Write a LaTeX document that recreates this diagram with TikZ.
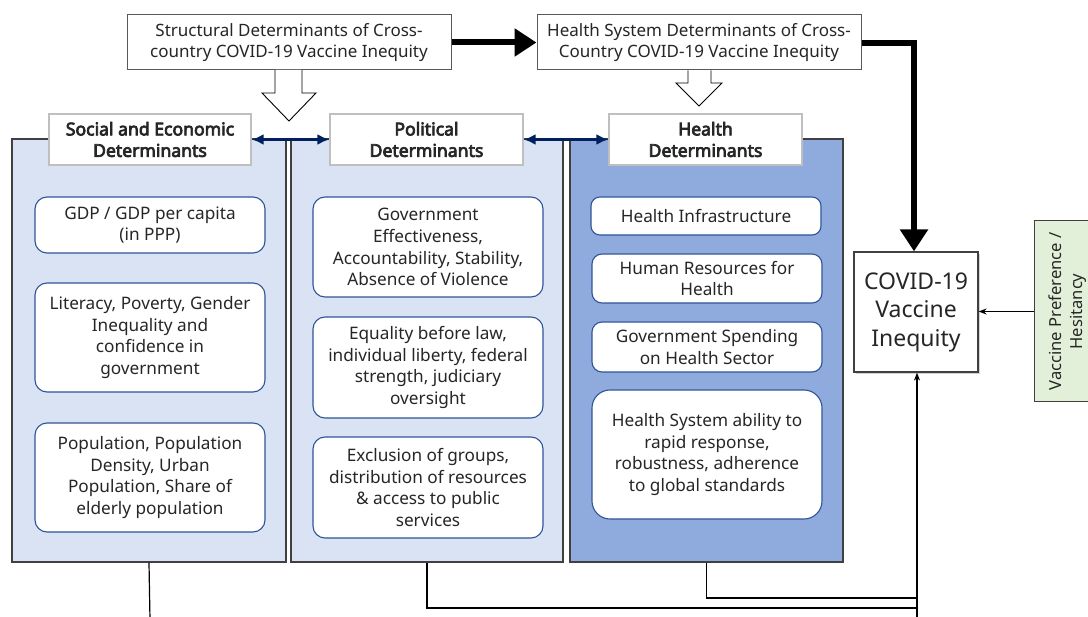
\documentclass[tikz,border=0pt]{standalone}
\usepackage{fontspec}
\setmainfont{Noto Sans}
\newfontfamily\hboldfont{Noto Sans}[FakeBold=4]
\usetikzlibrary{arrows.meta,shadows}
\definecolor{panlight}{HTML}{DAE3F3}
\definecolor{pandark}{HTML}{8FAADC}
\definecolor{pborder}{HTML}{404040}
\definecolor{hborder}{HTML}{BFBFBF}
\definecolor{iborder}{HTML}{2F5597}
\definecolor{tborder}{HTML}{595959}
\definecolor{navy}{HTML}{002060}
\definecolor{greenfill}{HTML}{E2F0D9}
\definecolor{txt}{HTML}{262626}
\tikzset{
  topbox/.style={draw=tborder, line width=1pt, fill=white, align=center, text=txt,
     font=\fontsize{17}{20.5}\selectfont, inner sep=0pt},
  panel/.style={draw=pborder, line width=1.3pt, inner sep=0pt},
  headbox/.style={draw=hborder, line width=1.2pt, fill=white, align=center, text=txt,
     font=\hboldfont\fontsize{17.6}{21.5}\selectfont, inner sep=0pt},
  ibox/.style={draw=iborder, line width=1.1pt, fill=white, rounded corners=12pt,
     align=center, text=txt, font=\fontsize{17.2}{21.8}\selectfont, inner sep=0pt},
  covidbox/.style={draw=pborder, line width=1.2pt, fill=white, align=center, text=txt,
     font=\fontsize{23}{28.5}\selectfont, inner sep=0pt,
     drop shadow={shadow xshift=2pt, shadow yshift=-2pt, opacity=0.35, fill=gray}},
  greenbox/.style={draw=pborder, line width=1pt, fill=greenfill, align=center, text=txt,
     font=\fontsize{16.6}{21}\selectfont, inner sep=0pt},
  bigarrow/.style={line width=6pt, -{Triangle[length=22pt,width=27pt]}},
  dblarrow/.style={navy, line width=3pt, {Latex[length=12pt,width=11pt]}-{Latex[length=12pt,width=11pt]}},
  thinarrow/.style={line width=1.4pt, -{Stealth[length=8pt,width=6pt]}},
  conn/.style={line width=1.2pt},
  hollow/.style={draw=black, line width=0.9pt, fill=white},
}
\begin{document}
\begin{tikzpicture}[x=1pt,y=-1pt]
\useasboundingbox (0,0) rectangle (1088,617);

% top boxes
\node[topbox, minimum width=324pt, minimum height=55pt] (struct) at (289,42.5)
  {Structural Determinants of Cross-\\country COVID-19 Vaccine Inequity};
\node[topbox, minimum width=324pt, minimum height=55pt] (hsys) at (699,42.5)
  {Health System Determinants of Cross-\\Country COVID-19 Vaccine Inequity};

% panels
\node[panel, fill=panlight, minimum width=274pt, minimum height=423pt] (P1) at (149,350.5) {};
\node[panel, fill=panlight, minimum width=272pt, minimum height=423pt] (P2) at (427,350.5) {};
\node[panel, fill=pandark, minimum width=273pt, minimum height=423pt] (P3) at (706.5,350.5) {};

% hollow block arrows
\draw[hollow] (275,70) -- (275,93) -- (262,93) -- (289,121) -- (316,93) -- (302,93) -- (302,70);
\draw[hollow] (688,70.5) -- (688,83) -- (676,83) -- (699,106) -- (722,83) -- (711,83) -- (711,70.5);

% headers
\node[headbox, minimum width=202pt, minimum height=51pt] (H1) at (150,139.5)
  {Social and Economic\\Determinants};
\node[headbox, minimum width=193pt, minimum height=51pt] (H2) at (426.5,139.5)
  {Political\\Determinants};
\node[headbox, minimum width=193pt, minimum height=51pt] (H3) at (705.5,139.5)
  {Health\\Determinants};

\draw[dblarrow] (H1.east) -- (H2.west);
\draw[dblarrow] (H2.east) -- (H3.west);

% panel 1 items
\node[ibox, minimum width=230pt, minimum height=56pt] (a1) at (150,225)
  {GDP / GDP per capita\\(in PPP)};
\node[ibox, minimum width=230pt, minimum height=109pt] (a2) at (150,337.5)
  {Literacy, Poverty, Gender\\Inequality and\\confidence in\\government};
\node[ibox, minimum width=230pt, minimum height=109pt] (a3) at (150,477.5)
  {Population, Population\\Density, Urban\\Population, Share of\\elderly population};

% panel 2 items
\node[ibox, minimum width=230pt, minimum height=100pt] (b1) at (428,247)
  {Government\\Effectiveness,\\Accountability, Stability,\\Absence of Violence};
\node[ibox, minimum width=230pt, minimum height=101pt] (b2) at (428,367.5)
  {Equality before law,\\individual liberty, federal\\strength, judiciary\\oversight};
\node[ibox, minimum width=230pt, minimum height=101pt] (b3) at (428,487.5)
  {Exclusion of groups,\\distribution of resources\\\& access to public\\services};

% panel 3 items
\node[ibox, minimum width=230pt, minimum height=38pt, rounded corners=9pt] (c1) at (706,216)
  {Health Infrastructure};
\node[ibox, minimum width=230pt, minimum height=49pt, rounded corners=10pt] (c2) at (707,278.5)
  {Human Resources for\\Health};
\node[ibox, minimum width=230pt, minimum height=50pt, rounded corners=10pt] (c3) at (707,347)
  {Government Spending\\on Health Sector};
\node[ibox, minimum width=230pt, minimum height=129pt, rounded corners=18pt] (c4) at (707,454.5)
  {Health System ability to\\rapid response,\\robustness, adherence\\to global standards};

% outcome
\node[covidbox, minimum width=124pt, minimum height=120pt] (covid) at (916,312)
  {COVID-19\\Vaccine\\Inequity};
\node[greenbox, rotate=90, minimum width=181pt, minimum height=67pt] (vp) at (1067.5,311.5)
  {Vaccine Preference /\\Hesitancy};

% thick arrows
\draw[bigarrow] (struct.east) -- (hsys.west);
\coordinate (corner) at (917,43);
\draw[line width=6pt] (hsys.east |- corner) -- (corner);
\draw[bigarrow] ([xshift=-3pt]corner) -- ([xshift=-3pt]corner |- covid.north) ;
\draw[line width=6pt] ([xshift=-3pt, yshift=-3pt]corner) -- ([xshift=-3pt,yshift=3pt]corner);

% thin arrows
\draw[thinarrow] (vp.north) -- (covid.east |- vp.north);

% bottom connectors
\coordinate (e1) at (150,620);
\coordinate (m2) at (917,608);
\coordinate (m3) at (917,598);
\coordinate (bot) at (917,620);
\draw[conn] (P1.south) -- (e1);
\draw[conn] (P2.south) |- (m2);
\draw[conn] (P3.south) |- (m3);
\draw[thinarrow] (bot) -- (covid.south -| bot);
\end{tikzpicture}
\end{document}
